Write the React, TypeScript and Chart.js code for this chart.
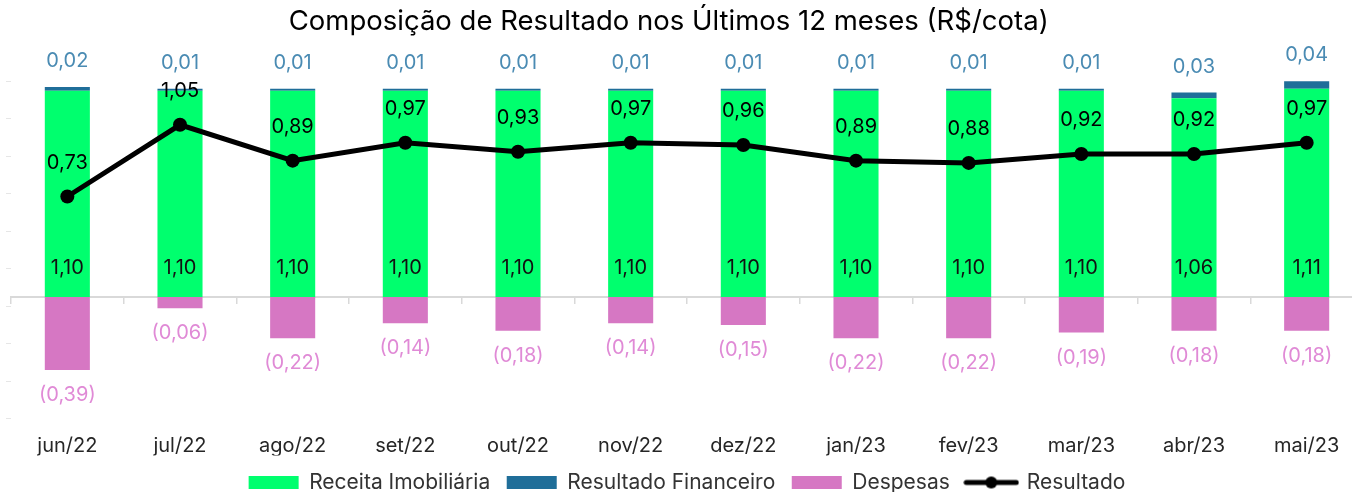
import React, { useEffect, useRef } from 'react';
import { Chart, registerables } from 'chart.js';

Chart.register(...registerables);

const categories = ['jun/22', 'jul/22', 'ago/22', 'set/22', 'out/22', 'nov/22', 'dez/22', 'jan/23', 'fev/23', 'mar/23', 'abr/23', 'mai/23'];
const receitaImobiliaria = [1.10, 1.10, 1.10, 1.10, 1.10, 1.10, 1.10, 1.10, 1.10, 1.10, 1.06, 1.11];
const resultadoFinanceiro = [0.02, 0.01, 0.01, 0.01, 0.01, 0.01, 0.01, 0.01, 0.01, 0.01, 0.03, 0.04];
const despesas = [-0.39, -0.06, -0.22, -0.14, -0.18, -0.14, -0.15, -0.22, -0.22, -0.19, -0.18, -0.18];
const resultado = [0.73, 1.05, 0.89, 0.97, 0.93, 0.97, 0.96, 0.89, 0.88, 0.92, 0.92, 0.97];
const seriesNames = ['Receita Imobiliária', 'Resultado Financeiro', 'Despesas', 'Resultado'];
const titleText = 'Composição de Resultado nos Últimos 12 meses (R$/cota)';

const FONT = 'Inter, "Noto Sans", sans-serif';
const GREEN = '#00ff6e';
const BLUE = '#1f6e99';
const PINK = '#d677c3';

const fmt = (v: number) => {
  const s = Math.abs(v).toFixed(2).replace('.', ',');
  return v < 0 ? `(${s})` : s;
};

const valueLabels = {
  id: 'valueLabels',
  afterDatasetsDraw(chart: any) {
    const { ctx } = chart;
    const yZero = chart.scales.y.getPixelForValue(0);
    ctx.save();
    ctx.textAlign = 'center';
    ctx.textBaseline = 'middle';
    ctx.font = `20px ${FONT}`;
    chart.getDatasetMeta(0).data.forEach((el: any, i: number) => {
      ctx.fillStyle = '#111';
      ctx.fillText(fmt(receitaImobiliaria[i]), el.x, yZero - 29);
    });
    chart.getDatasetMeta(1).data.forEach((el: any, i: number) => {
      ctx.fillStyle = '#4a8bb3';
      ctx.fillText(fmt(resultadoFinanceiro[i]), el.x, el.y - 26);
    });
    chart.getDatasetMeta(2).data.forEach((el: any, i: number) => {
      ctx.fillStyle = '#e08ad6';
      ctx.fillText(fmt(despesas[i]), el.x, el.y + 25);
    });
    chart.getDatasetMeta(3).data.forEach((el: any, i: number) => {
      ctx.fillStyle = '#000';
      ctx.fillText(fmt(resultado[i]), el.x, el.y - 34);
    });
    ctx.restore();
  },
};

export default function App() {
  const ref = useRef<HTMLCanvasElement>(null);

  useEffect(() => {
    document.body.style.margin = '0';
    const canvas = ref.current;
    if (!canvas) return;

    const icon = document.createElement('canvas');
    icon.width = 56;
    icon.height = 14;
    const ic = icon.getContext('2d')!;
    ic.strokeStyle = '#000';
    ic.lineWidth = 5;
    ic.lineCap = 'round';
    ic.beginPath();
    ic.moveTo(3, 7);
    ic.lineTo(53, 7);
    ic.stroke();
    ic.fillStyle = '#000';
    ic.beginPath();
    ic.arc(28, 7, 6, 0, Math.PI * 2);
    ic.fill();

    const chart = new Chart(canvas, {
      type: 'bar',
      data: {
        labels: categories,
        datasets: [
          {
            type: 'bar',
            label: seriesNames[0],
            data: receitaImobiliaria,
            backgroundColor: GREEN,
            stack: 's',
            order: 1,
            categoryPercentage: 1,
            barPercentage: 0.4,
          },
          {
            type: 'bar',
            label: seriesNames[1],
            data: resultadoFinanceiro,
            backgroundColor: BLUE,
            stack: 's',
            order: 1,
            categoryPercentage: 1,
            barPercentage: 0.4,
          },
          {
            type: 'bar',
            label: seriesNames[2],
            data: despesas,
            backgroundColor: PINK,
            stack: 's',
            order: 1,
            categoryPercentage: 1,
            barPercentage: 0.4,
          },
          {
            type: 'line',
            label: seriesNames[3],
            data: resultado,
            yAxisID: 'y1',
            borderColor: '#000',
            backgroundColor: '#000',
            borderWidth: 5,
            pointRadius: 7,
            pointBackgroundColor: '#000',
            pointBorderWidth: 0,
            tension: 0,
            order: 0,
          },
        ] as any,
      },
      options: {
        animation: false,
        responsive: false,
        maintainAspectRatio: false,
        layout: { padding: { left: 0, right: 0.6, top: 0, bottom: 0 } },
        plugins: {
          tooltip: { enabled: false },
          title: {
            display: true,
            text: titleText,
            color: '#000',
            font: { family: FONT, size: 27.5, weight: 'normal' },
            padding: { top: 5.5, bottom: 24.1 },
          },
          legend: {
            position: 'bottom',
            fullSize: false,
            labels: {
              usePointStyle: true,
              pointStyleWidth: 50,
              boxHeight: 13,
              padding: 16.5,
              color: '#333',
              font: { family: FONT, size: 21 },
              generateLabels: (c: any) => {
                const items = Chart.defaults.plugins.legend.labels.generateLabels(c);
                return items
                  .map((it: any) => ({
                    ...it,
                    pointStyle: it.datasetIndex === 3 ? icon : 'rect',
                    lineWidth: 0,
                    strokeStyle: it.fillStyle,
                  }))
                  .sort((a: any, b: any) => a.datasetIndex - b.datasetIndex);
              },
            },
          },
        },
        scales: {
          x: {
            stacked: true,
            grid: { display: false, drawTicks: false },
            border: { display: false },
            ticks: { color: '#262626', padding: 0, font: { family: FONT, size: 20, lineHeight: 1 } },
          },
          xZero: {
            type: 'category',
            position: { y: 0 } as any,
            grid: { offset: true, drawOnChartArea: false, drawTicks: true, tickLength: 6, color: '#d9d9d9', lineWidth: 1.5 },
            border: { display: true, color: '#d9d9d9', width: 2 },
            ticks: { display: false },
          },
          y: {
            stacked: true,
            position: 'left',
            min: -0.7387,
            max: 1.25,
            afterFit: (s: any) => {
              s.width = 43;
            },
            afterBuildTicks: (s: any) => {
              const t = [];
              for (let v = -0.65; v < 1.2; v += 0.2) t.push({ value: v });
              s.ticks = t;
            },
            ticks: { display: false },
            grid: { drawOnChartArea: false, drawTicks: true, tickLength: 5, color: '#e6e6e6' },
            border: { display: false },
          },
          y1: {
            display: false,
            min: -0.337,
            max: 1.3277,
          },
        },
      } as any,
      plugins: [valueLabels],
    });

    return () => chart.destroy();
  }, []);

  return (
    <div style={{ position: 'fixed', left: 0, top: 0, width: 1352, height: 492, overflow: 'hidden', background: '#fff' }}>
      <div style={{ position: 'absolute', left: -31.7, top: 0, width: 1402, height: 503 }}>
        <canvas ref={ref} width={1402} height={503} style={{ width: 1402, height: 503, display: 'block' }} />
      </div>
    </div>
  );
}
